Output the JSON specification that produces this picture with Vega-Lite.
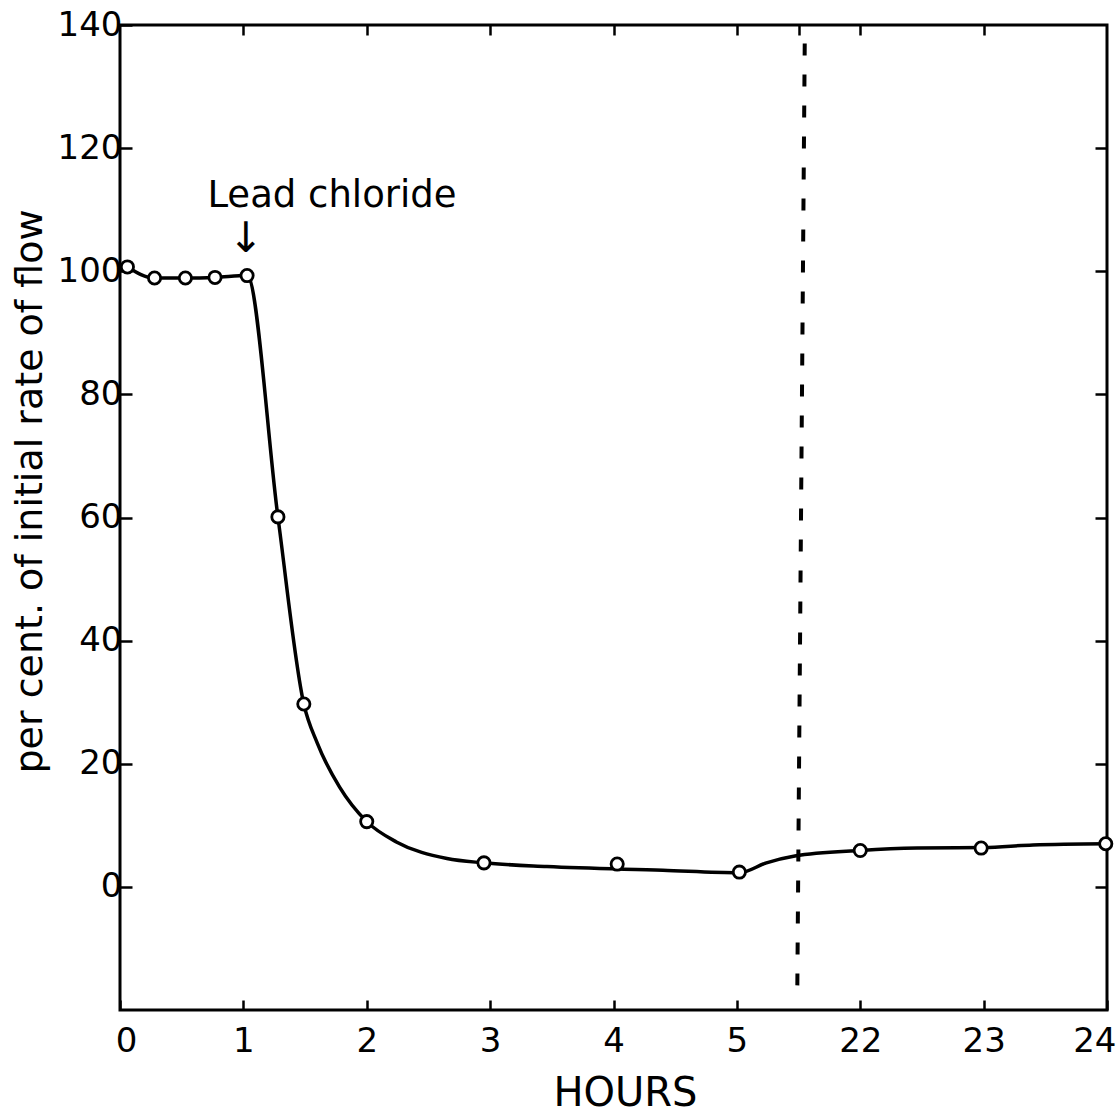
{
  "$schema": "https://vega.github.io/schema/vega-lite/v6.json",
  "width": 987,
  "height": 985,
  "autosize": {"type": "none"},
  "padding": {"left": 120, "top": 25, "right": 10, "bottom": 103},
  "background": "white",
  "config": {
    "view": {"stroke": "black", "strokeWidth": 3},
    "axis": {
      "grid": false,
      "domain": false,
      "tickColor": "black",
      "tickWidth": 2.5,
      "labelColor": "black",
      "titleColor": "black",
      "labelFont": "DejaVu Sans",
      "labelFontSize": 34,
      "titleFont": "DejaVu Sans",
      "titleFontWeight": "normal"
    }
  },
  "datasets": {
    "points": [
      {"x": 0.06, "y": 100.7}, {"x": 0.28, "y": 98.9}, {"x": 0.53, "y": 98.9},
      {"x": 0.77, "y": 99.0}, {"x": 1.03, "y": 99.3}, {"x": 1.28, "y": 60.1},
      {"x": 1.49, "y": 29.7}, {"x": 2.0, "y": 10.6}, {"x": 2.95, "y": 3.9},
      {"x": 4.03, "y": 3.7}, {"x": 5.02, "y": 2.4}, {"x": 6.0, "y": 5.9},
      {"x": 6.98, "y": 6.3}, {"x": 7.99, "y": 7.0}
    ],
    "curve": [
      {"x": 0.06, "y": 100.7}, {"x": 0.28, "y": 98.9}, {"x": 0.53, "y": 98.9},
      {"x": 0.77, "y": 99.0}, {"x": 1.03, "y": 99.3}, {"x": 1.28, "y": 60.1},
      {"x": 1.49, "y": 29.7}, {"x": 1.6, "y": 23.3}, {"x": 1.78, "y": 16.2},
      {"x": 2.0, "y": 10.6}, {"x": 2.24, "y": 7.3}, {"x": 2.65, "y": 4.6},
      {"x": 2.95, "y": 3.9}, {"x": 3.46, "y": 3.3}, {"x": 4.4, "y": 2.7},
      {"x": 5.02, "y": 2.3}, {"x": 5.24, "y": 3.9}, {"x": 5.47, "y": 5.0},
      {"x": 6.0, "y": 5.9}, {"x": 6.46, "y": 6.3}, {"x": 7.0, "y": 6.4},
      {"x": 7.4, "y": 6.8}, {"x": 8.0, "y": 7.0}
    ],
    "marker": [{"x": 5.55, "y": 137, "x2": 5.49, "y2": -16}],
    "notes": [{"x": 1.718, "y": 110.4, "text": "Lead chloride"}],
    "arrows": [{"x": 1.02, "y": 105.3, "text": "↓"}]
  },
  "resolve": {"axis": {"x": "independent", "y": "independent"}},
  "layer": [
    {
      "data": {"name": "curve"},
      "mark": {"type": "line", "interpolate": "monotone", "color": "black", "strokeWidth": 3.5},
      "encoding": {
        "x": {
          "field": "x", "type": "quantitative",
          "scale": {"domain": [0, 8], "nice": false, "zero": false},
          "axis": {
            "orient": "bottom",
            "values": [0, 1, 2, 3, 4, 5, 6, 7, 8],
            "labelExpr": "datum.value > 5 ? '' + (datum.value + 16) : datum.label",
            "tickSize": -10,
            "labelPadding": 24,
            "labelFlush": false,
            "labelOverlap": false,
            "labelAlign": {"condition": {"test": "datum.value == 8", "value": "right"}, "value": "center"},
            "labelOffset": {"condition": [{"test": "datum.value == 8", "value": 9}, {"test": "datum.value == 0", "value": 6}], "value": 0},
            "title": "HOURS",
            "titleFontSize": 40,
            "titleX": 505,
            "titleY": 83,
            "titleAnchor": null,
            "titleAlign": "center",
            "titleBaseline": "middle"
          }
        },
        "y": {
          "field": "y", "type": "quantitative",
          "scale": {"domain": [-20, 140], "nice": false, "zero": false},
          "axis": {
            "orient": "left",
            "values": [0, 20, 40, 60, 80, 100, 120, 140],
            "tickSize": -12,
            "labelPadding": 10,
            "labelFlush": false,
            "labelOverlap": false,
            "title": "per cent. of initial rate of flow",
            "titleFontSize": 38,
            "titleAngle": 270,
            "titleX": -90,
            "titleY": 466,
            "titleAlign": "center",
            "titleBaseline": "middle"
          }
        }
      }
    },
    {
      "data": {"name": "points"},
      "mark": {"type": "point", "shape": "circle", "filled": true, "fill": "white", "stroke": "black", "strokeWidth": 2.8, "size": 150, "opacity": 1},
      "encoding": {
        "x": {
          "field": "x", "type": "quantitative",
          "scale": {"domain": [0, 8], "nice": false, "zero": false},
          "axis": {"orient": "top", "values": [1, 2, 3, 4, 5, 5.5, 6, 7], "labels": false, "tickSize": -10, "title": null}
        },
        "y": {
          "field": "y", "type": "quantitative",
          "scale": {"domain": [-20, 140], "nice": false, "zero": false},
          "axis": {"orient": "right", "values": [0, 20, 40, 60, 80, 100, 120], "labels": false, "tickSize": -12, "title": null}
        }
      }
    },
    {
      "data": {"name": "marker"},
      "mark": {"type": "rule", "color": "black", "strokeWidth": 4, "strokeDash": [12, 19]},
      "encoding": {
        "x": {"field": "x", "type": "quantitative", "axis": null},
        "x2": {"field": "x2"},
        "y": {"field": "y", "type": "quantitative", "axis": null},
        "y2": {"field": "y2"}
      }
    },
    {
      "data": {"name": "notes"},
      "mark": {"type": "text", "font": "DejaVu Sans", "fontSize": 37, "align": "center", "baseline": "alphabetic", "color": "black"},
      "encoding": {
        "x": {"field": "x", "type": "quantitative", "axis": null},
        "y": {"field": "y", "type": "quantitative", "axis": null},
        "text": {"field": "text"}
      }
    },
    {
      "data": {"name": "arrows"},
      "mark": {"type": "text", "font": "DejaVu Sans", "fontSize": 42, "align": "center", "baseline": "middle", "color": "black"},
      "encoding": {
        "x": {"field": "x", "type": "quantitative", "axis": null},
        "y": {"field": "y", "type": "quantitative", "axis": null},
        "text": {"field": "text"}
      }
    }
  ]
}
